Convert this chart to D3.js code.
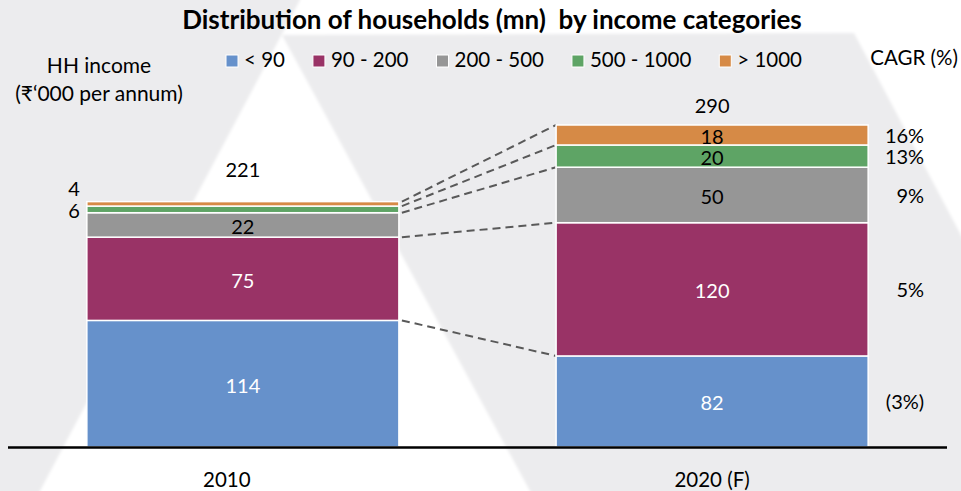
<!DOCTYPE html>
<html>
<head>
<meta charset="utf-8">
<script src="https://cdn.jsdelivr.net/npm/d3@7"></script>
<style>
  html, body { margin: 0; padding: 0; background: #ffffff; }
  svg { display: block; }
  text { font-family: Lato, "Noto Sans", "DejaVu Sans", sans-serif; }
</style>
</head>
<body>
<svg id="chart" width="961" height="491"></svg>
<script>
// Households (mn) by annual household income band (₹'000)
const years = ["2010", "2020 (F)"];
const categories = ["< 90", "90 - 200", "200 - 500", "500 - 1000", "> 1000"];
const households2010 = [114, 75, 22, 6, 4];
const households2020 = [82, 120, 50, 20, 18];
const totals = [221, 290];
const cagrLabels = ["(3%)", "5%", "9%", "13%", "16%"];

const colors = ["#6691cb", "#993366", "#969696", "#5ea465", "#d68a46"];
const labelColors = ["#ffffff", "#ffffff", "#000000", "#000000", "#000000"];

const W = 961, H = 491;
const svg = d3.select("#chart");

// Soft watermark backdrop
const defs = svg.append("defs");
defs.append("filter").attr("id", "soft")
  .attr("x", "-5%").attr("y", "-5%").attr("width", "110%").attr("height", "110%")
  .append("feGaussianBlur").attr("stdDeviation", 1.6);

const bg = svg.append("g").attr("filter", "url(#soft)");
bg.append("rect").attr("x", -10).attr("y", -10).attr("width", W + 20).attr("height", H + 20).attr("fill", "#ffffff");
const shade = "#ececee";
bg.append("polygon").attr("points", "-10,-10 302,-10 300,0 40,491 36,501 -10,501").attr("fill", shade);
bg.append("polygon").attr("points", "282,35 854,33 971,254 971,501 535,501 530,491").attr("fill", shade);

// Rows for the stack
const rows = years.map((yr, i) => {
  const vals = i === 0 ? households2010 : households2020;
  const r = { year: yr };
  categories.forEach((c, k) => r[c] = vals[k]);
  return r;
});
const series = d3.stack().keys(categories)(rows);

const x = d3.scaleBand().domain(years).range([8, 947]).paddingInner(0.335).paddingOuter(0.168);
const y = d3.scaleLinear().domain([0, 290]).range([447, 125]);
const bw = x.bandwidth();

// Dashed connectors between the tops of matching segments
const conn = svg.append("g");
series.forEach(s => {
  conn.append("line")
    .attr("x1", x(years[0]) + bw + 3).attr("y1", y(s[0][1]))
    .attr("x2", x(years[1])).attr("y2", y(s[1][1]))
    .attr("stroke", "#595959").attr("stroke-width", 2)
    .attr("stroke-dasharray", "8,5");
});

// Stacked bars
const bars = svg.append("g");
series.forEach((s, k) => {
  bars.selectAll(null).data(s).enter().append("rect")
    .attr("x", d => x(d.data.year))
    .attr("y", d => y(d[1]))
    .attr("width", bw)
    .attr("height", d => y(d[0]) - y(d[1]))
    .attr("fill", colors[k])
    .attr("stroke", "#ffffff")
    .attr("stroke-width", 1.5);
});

// Baseline
svg.append("line")
  .attr("x1", x.range()[0]).attr("x2", x.range()[1])
  .attr("y1", y(0) + 0.5).attr("y2", y(0) + 0.5)
  .attr("stroke", "#000000").attr("stroke-width", 2.5);

// Segment value labels
const lab = svg.append("g").attr("font-size", 20);
series.forEach((s, k) => {
  s.forEach((d, i) => {
    const v = d[1] - d[0];
    const mid = (y(d[0]) + y(d[1])) / 2;
    if (i === 0 && k >= 3) {
      // thin 2010 segments get their values to the left of the bar
      const yy = k === 4 ? y(d[1]) - 6 : mid + 9;
      lab.append("text").attr("x", x(d.data.year) - 7).attr("y", yy)
        .attr("text-anchor", "end").attr("fill", "#000").text(v);
    } else {
      lab.append("text").attr("x", x(d.data.year) + bw / 2).attr("y", mid + 9)
        .attr("text-anchor", "middle").attr("fill", labelColors[k]).text(v);
    }
  });
});

// Totals above bars
const totalLift = [25, 12];
years.forEach((yr, i) => {
  lab.append("text").attr("x", x(yr) + bw / 2).attr("y", y(totals[i]) - totalLift[i])
    .attr("text-anchor", "middle").attr("fill", "#000").text(totals[i]);
});

// CAGR labels beside the 2020 bar
series.forEach((s, k) => {
  const d = s[1];
  const mid = (y(d[0]) + y(d[1])) / 2;
  lab.append("text").attr("x", x(years[1]) + bw + 56).attr("y", mid + 8)
    .attr("text-anchor", "end").attr("fill", "#000").text(cagrLabels[k]);
});

// Category axis labels
const xl = svg.append("g").attr("font-size", 20.5).attr("text-anchor", "middle");
xl.append("text").attr("x", x(years[0]) + bw / 2 - 16).attr("y", 487).text(years[0]);
xl.append("text").attr("x", x(years[1]) + bw / 2).attr("y", 487).text(years[1]);

// Title
svg.append("text").attr("x", 492).attr("y", 29)
  .attr("text-anchor", "middle").attr("font-size", 26).attr("font-weight", 700)
  .attr("xml:space", "preserve")
  .text("Distribution of households (mn)  by income categories");

// Side captions
svg.append("text").attr("x", 99).attr("y", 73).attr("text-anchor", "middle").attr("font-size", 21).text("HH income");
svg.append("text").attr("x", 99).attr("y", 101).attr("text-anchor", "middle").attr("font-size", 21).text("(₹‘000 per annum)");
svg.append("text").attr("x", 958).attr("y", 65).attr("text-anchor", "end").attr("font-size", 20.5).text("CAGR (%)");

// Legend
const leg = svg.append("g").attr("font-size", 20.5);
let lx = 0;
const items = [];
categories.forEach((c, k) => {
  const g = leg.append("g");
  g.append("rect").attr("x", 0).attr("y", -12).attr("width", 12).attr("height", 12)
    .attr("fill", colors[k]).attr("stroke", "#fff").attr("stroke-width", 1);
  const t = g.append("text").attr("x", 18).attr("y", 0).text(c);
  items.push({ g, w: 18 + t.node().getComputedTextLength() });
});
const gap = 28;
const totalW = d3.sum(items, d => d.w) + gap * (items.length - 1);
lx = 514 - totalW / 2;
items.forEach(it => { it.g.attr("transform", `translate(${lx},67)`); lx += it.w + gap; });
</script>
</body>
</html>
